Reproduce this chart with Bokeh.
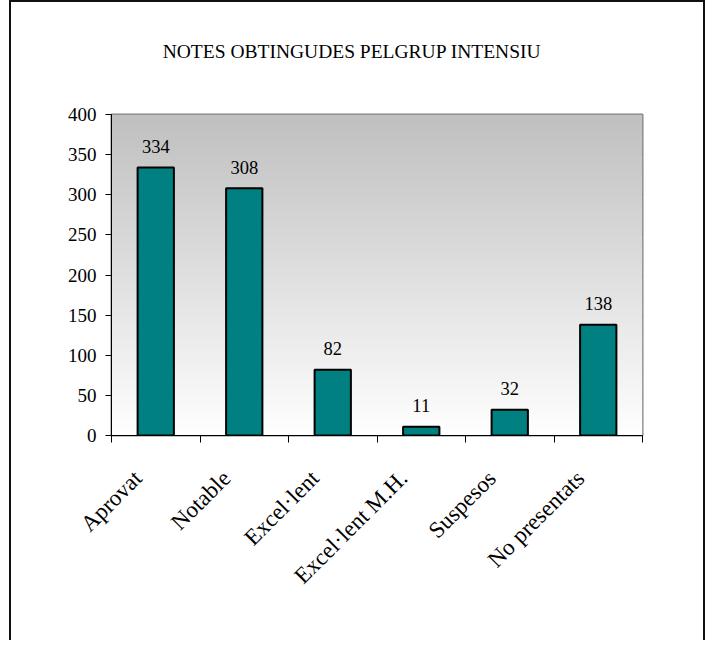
import math
import numpy as np
from bokeh.plotting import figure
from bokeh.models import FixedTicker, Range1d, LinearAxis
from bokeh.embed import file_html
from bokeh.resources import INLINE
from bokeh.core.properties import value

# ---- data ----
categories = ["Aprovat", "Notable", "Excel·lent", "Excel·lent M.H.", "Suspesos", "No presentats"]
counts = [334, 308, 82, 11, 32, 138]
y_ticks = [0, 50, 100, 150, 200, 250, 300, 350, 400]
title_text = "NOTES OBTINGUDES PELGRUP INTENSIU"

FONT = "Liberation Serif"
n = len(categories)
xc = [i + 0.5 for i in range(n)]
ymax = y_ticks[-1]

# layout (pixels)
W, H = 696, 640
BL, BR, BT, BB = 100, 65, 112, 207
frame_w = W - BL - BR

p = figure(width=W, height=H,
           x_range=Range1d(0, n), y_range=Range1d(0, ymax),
           output_backend="svg", toolbar_location=None,
           min_border_left=BL, min_border_right=BR,
           min_border_top=BT, min_border_bottom=BB)
p.styles = {"margin-left": "9px",
            "border-top": "2px solid #111111",
            "border-left": "2px solid #111111",
            "border-right": "2px solid #111111"}
p.background_fill_color = "white"
p.border_fill_color = "white"

# gradient background of plot area (grey at top -> white at bottom)
N = 256
g = np.linspace(255, 192, N).astype(np.uint8)
img = np.empty((N, 1), dtype=np.uint32)
view = img.view(dtype=np.uint8).reshape((N, 1, 4))
view[:, 0, 0] = g
view[:, 0, 1] = g
view[:, 0, 2] = g
view[:, 0, 3] = 255
p.image_rgba(image=[img], x=0, y=0, dw=n, dh=ymax)

# grid
p.xgrid.visible = False
p.ygrid.ticker = FixedTicker(ticks=y_ticks)
p.ygrid.grid_line_color = "black"
p.ygrid.grid_line_width = 1
p.outline_line_color = "#808080"
p.outline_line_width = 2

# bars
p.vbar(x=xc, top=counts, width=0.41, bottom=0,
       fill_color="#008080", line_color="black", line_width=2)

# value labels
p.text(x=xc, y=counts, text=[str(c) for c in counts],
       text_align="center", text_baseline="alphabetic", y_offset=-21,
       text_font=value(FONT), text_font_size="18.5px", text_color="black")

# y axis
ya = p.left[0]
ya.ticker = FixedTicker(ticks=y_ticks)
ya.axis_line_color = "black"
ya.major_tick_out = 6
ya.major_tick_in = 0
ya.minor_tick_line_color = None
ya.major_label_text_font = FONT
ya.major_label_text_font_size = "19px"
ya.major_label_text_color = "black"
ya.major_label_standoff = 9

# x axis: ticks at category boundaries, labels near centres
lab_x = [x - 0.2 for x in xc]
xa = p.below[0]
xa.ticker = FixedTicker(ticks=lab_x, minor_ticks=list(range(n + 1)))
xa.major_label_overrides = {x: c for x, c in zip(lab_x, categories)}
xa.major_tick_line_color = None
xa.minor_tick_out = 7
xa.minor_tick_in = 0
xa.minor_tick_line_color = "black"
xa.axis_line_color = "black"
xa.major_label_orientation = math.pi / 4
xa.major_label_text_font = FONT
xa.major_label_text_font_size = "23px"
xa.major_label_text_color = "black"
xa.major_label_standoff = 32

# title, drawn as the single label of an invisible top axis
title_x = n / 2 - 25 * n / frame_w
top_axis = LinearAxis(ticker=FixedTicker(ticks=[title_x]))
top_axis.major_label_overrides = {title_x: title_text}
top_axis.axis_line_color = None
top_axis.major_tick_line_color = None
top_axis.minor_tick_line_color = None
top_axis.major_tick_out = 0
top_axis.major_label_text_font = FONT
top_axis.major_label_text_font_size = "19.5px"
top_axis.major_label_text_font_style = "normal"
top_axis.major_label_text_color = "black"
top_axis.major_label_standoff = 53
p.add_layout(top_axis, "above")

open("out.html", "w").write(file_html(p, INLINE))
